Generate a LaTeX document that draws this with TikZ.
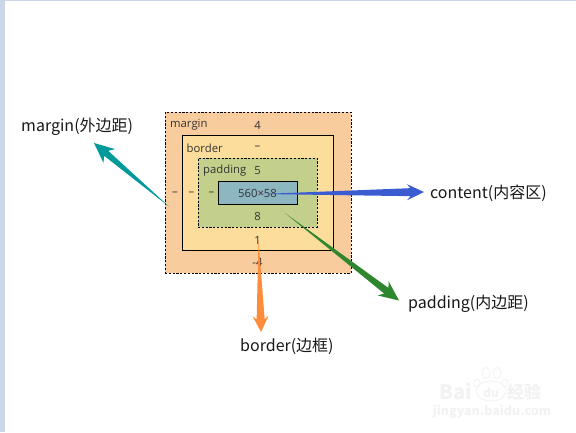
\documentclass[tikz,border=0pt]{standalone}
\usepackage{fontspec}
\setmainfont{Noto Sans CJK SC}
\newfontfamily\boxfont{Open Sans}
\usetikzlibrary{calc}
\definecolor{cmargin}{HTML}{F9CC9D}
\definecolor{cborder}{HTML}{FDDD9B}
\definecolor{cpadding}{HTML}{C3D08B}
\definecolor{ccontent}{HTML}{8CB6C0}
\definecolor{cstrip}{HTML}{CBD6E8}
\definecolor{cteal}{HTML}{009A9A}
\definecolor{cblue}{HTML}{3B5BD0}
\definecolor{cgreen}{HTML}{2E862E}
\definecolor{corange}{HTML}{FF8C3A}
\definecolor{ctext}{HTML}{333333}
\definecolor{cwm}{HTML}{F2F2F2}
\newcommand{\taper}[6]{% tail, tip, colour, shaft half width, head half width, head length
  \coordinate (hb) at ($(#2)!#6pt!(#1)$);
  \coordinate (nb) at ($(#2)!#6pt*0.8!(#1)$);
  \fill[#3] (#1) -- ($(nb)!#4pt!90:(#2)$) -- ($(hb)!#5pt!90:(#2)$) -- (#2)
    -- ($(hb)!#5pt!-90:(#2)$) -- ($(nb)!#4pt!-90:(#2)$) -- cycle;
}
\tikzset{
  x=1pt,y=-1pt,
  boxtext/.style={font=\boxfont\fontsize{11.3}{13}\selectfont,text=ctext,inner sep=0pt},
  label/.style={font=\fontsize{16}{18}\selectfont,text=black!90,inner sep=0pt,anchor=west},
  wm/.style={text=cwm,inner sep=0pt},
}
\begin{document}
\begin{tikzpicture}
\useasboundingbox (0,0) rectangle (576,432);
\fill[white] (0,0) rectangle (576,432);
\fill[cstrip] (0,0) rectangle (576,1.3);
\fill[cstrip] (0,0) rectangle (5,432);
% watermark
\node[wm,font=\bfseries\fontsize{20}{22}\selectfont] (wmbai) at (456,391) {Bai};
\foreach \n/\px/\py/\rx/\ry in {p1/477/383/3/4,p2/486/373/4/5.5,p3/497/373/4/5.5,p4/505/383/3/4}
  \draw[cwm,line width=0.8pt] (\px,\py) ellipse ({\rx} and {\ry});
\draw[cwm,line width=0.8pt] (491,391) ellipse (15 and 10);
\node[wm,font=\bfseries\fontsize{12}{14}\selectfont] (wmdu) at (491,393) {du};
\node[wm,font=\bfseries\fontsize{17}{19}\selectfont] (wmjy) at (524,392) {经验};
\node[wm,font=\bfseries\fontsize{12.5}{14}\selectfont] (wmurl) at (492,412) {jingyan.baidu.com};
% box model
\node[draw=black,fill=cmargin,line width=0.8pt,minimum width=186pt,minimum height=160.5pt,inner sep=0pt,dash pattern=on 2.2pt off 1.6pt] (marginbox) at (258,192.7) {};
\node[draw=black,fill=cborder,line width=0.8pt,minimum width=151.5pt,minimum height=115pt,inner sep=0pt] (borderbox) at (257.7,192.5) {};
\node[draw=black,fill=cpadding,line width=0.8pt,minimum width=119pt,minimum height=69pt,inner sep=0pt,dash pattern=on 2.2pt off 1.6pt] (paddingbox) at (257.5,192.5) {};
\node[draw=black,fill=ccontent,line width=0.8pt,minimum width=79pt,minimum height=23pt,inner sep=0pt] (contentbox) at (258,193) {};
\node[boxtext,anchor=west] (tm) at (170,125) {margin};
\node[boxtext] (v1) at (257.5,125) {4};
\node[boxtext,anchor=west] (tb) at (186.5,148) {border};
\node[boxtext] (v2) at (257.5,148) {–};
\node[boxtext,anchor=west] (tp) at (203,171) {padding};
\node[boxtext] (v3) at (257.5,171) {5};
\node[boxtext] (v4) at (257.5,193) {560×58};
\node[boxtext] (v5) at (257.5,216.5) {8};
\node[boxtext] (v6) at (257.5,240) {1};
\node[boxtext] (v7) at (257.5,262.5) {-4};
\node[boxtext] (v8) at (175,193.5) {–};
\node[boxtext] (v9) at (191.5,193.5) {–};
\node[boxtext] (v10) at (211.5,193.5) {–};
% labels
\node[label] (lmargin) at (21,127) {margin(外边距)};
\node[label] (lcontent) at (430,193) {content(内容区)};
\node[label] (lpadding) at (408,304) {padding(内边距)};
\node[label] (lborder) at (240,346) {border(边框)};
% arrows
\coordinate (a1) at (169.5,207);  \coordinate (b1) at (94,143);
\coordinate (a2) at (262,194);    \coordinate (b2) at (424,192);
\coordinate (a3) at (285,213);    \coordinate (b3) at (399,300.5);
\coordinate (a4) at (258.5,240);  \coordinate (b4) at (261,332);
\taper{a1}{b1}{cteal}{3.2}{9}{20}
\taper{a2}{b2}{cblue}{4}{8}{17}
\taper{a3}{b3}{cgreen}{3.5}{9}{20}
\taper{a4}{b4}{corange}{4}{8}{16}
\end{tikzpicture}
\end{document}
